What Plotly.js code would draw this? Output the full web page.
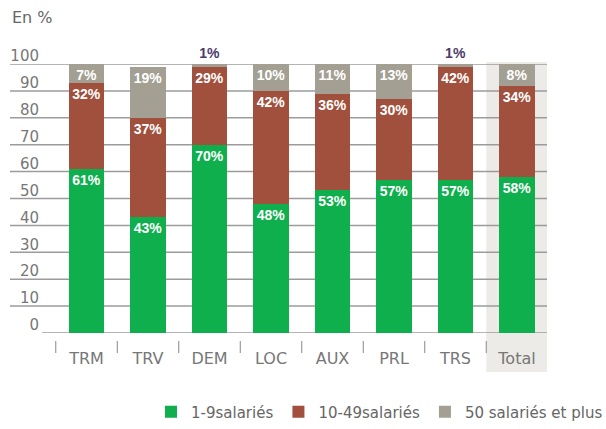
<!DOCTYPE html>
<html>
<head>
<meta charset="utf-8">
<script src="https://cdn.plot.ly/plotly-3.0.1.min.js"></script>
<style>html,body{margin:0;padding:0;background:#fff;}#chart{width:606px;height:429px;}</style>
</head>
<body>
<div id="chart"></div>
<script>
const categories = ["TRM","TRV","DEM","LOC","AUX","PRL","TRS","Total"];
const small = [61,43,70,48,53,57,57,58];
const medium = [32,37,29,42,36,30,42,34];
const large = [7,19,1,10,11,13,1,8];
const seriesNames = ["1-9salariés","10-49salariés","50 salariés et plus"];
const yTicks = [0,10,20,30,40,50,60,70,80,90,100];

const colors = ["#0FAF4E","#A0503C","#A3A093"];
const pct = v => v.map(x => x + "%");

const labelFont = {family:"Liberation Sans, Arial, sans-serif", size:14, color:"#ffffff", weight:"bold"};

const traces = [
  {type:"bar", name:seriesNames[0], x:categories, y:small, marker:{color:colors[0]},
   text:pct(small), textposition:"inside", insidetextanchor:"end", textangle:0, textfont:labelFont, constraintext:"none", cliponaxis:false, hoverinfo:"skip"},
  {type:"bar", name:seriesNames[1], x:categories, y:medium, marker:{color:colors[1]},
   text:pct(medium), textposition:"inside", insidetextanchor:"end", textangle:0, textfont:labelFont, constraintext:"none", cliponaxis:false, hoverinfo:"skip"},
  {type:"bar", name:seriesNames[2], x:categories, y:large, marker:{color:colors[2]},
   text:pct(large),
   textposition:large.map(v => v < 3 ? "outside" : "inside"),
   insidetextanchor:"end", textangle:0,
   textfont:{family:"Liberation Sans, Arial, sans-serif", size:14, weight:"bold",
             color:large.map(v => v < 3 ? "#4B3B6B" : "#ffffff")},
   constraintext:"none", cliponaxis:false, hoverinfo:"skip"}
];

const L = 42, R = 547, T = 64, B = 333;
const pw = R - L, ph = B - T;

const shapes = [];
// Total background band
shapes.push({type:"rect", xref:"x", yref:"paper", x0:6.5, x1:7.5, y0:(B-372)/ph, y1:(B-62)/ph,
  fillcolor:"#ECEBE7", line:{width:0}, layer:"below"});
// gridlines
yTicks.forEach(v => {
  shapes.push({type:"line", xref:"paper", yref:"y", x0: v === 0 ? 0 : (10-L)/pw, x1:1, y0:v, y1:v,
    line:{color:"#9b9b9b", width:1.5}, layer:"below"});
});
// category separator ticks
for (let i = 0; i <= categories.length; i++) {
  shapes.push({type:"line", xref:"x", yref:"paper", x0:i-0.5, x1:i-0.5, y0:(B-341)/ph, y1:(B-353)/ph,
    line:{color:"#888", width:1}});
}

const layout = {
  width:606, height:429,
  margin:{l:L, r:606-R, t:T, b:429-B, pad:0, autoexpand:false},
  paper_bgcolor:"#ffffff", plot_bgcolor:"rgba(0,0,0,0)",
  barmode:"stack", bargap:0.43,
  showlegend:true,
  legend:{orientation:"h", x:(608-L)/pw, xanchor:"right", y:(B-412)/ph, yanchor:"middle",
    font:{family:"DejaVu Sans, Verdana, sans-serif", size:15, color:"#666"}, traceorder:"normal"},
  xaxis:{type:"category", range:[-0.724, 7.488], showgrid:false, zeroline:false, showline:false,
    ticks:"outside", ticklen:11, tickcolor:"rgba(0,0,0,0)",
    tickfont:{family:"DejaVu Sans, Verdana, sans-serif", size:16, color:"#777"}, fixedrange:true},
  yaxis:{range:[0,100], tickvals:yTicks, ticktext:yTicks.map(String), showgrid:false, zeroline:false, showline:false,
    ticks:"", ticklabelshift:-8, ticklabelstandoff:2,
    tickfont:{family:"DejaVu Sans, Verdana, sans-serif", size:15, color:"#777"}, fixedrange:true},
  shapes:shapes,
  annotations:[{text:"En %", xref:"paper", yref:"paper", x:(10-L)/pw, y:(B-18)/ph, xanchor:"left", yanchor:"middle",
    showarrow:false, font:{family:"DejaVu Sans, Verdana, sans-serif", size:16, color:"#666"}}]
};

Plotly.newPlot("chart", traces, layout, {displayModeBar:false, staticPlot:true});
</script>
</body>
</html>
